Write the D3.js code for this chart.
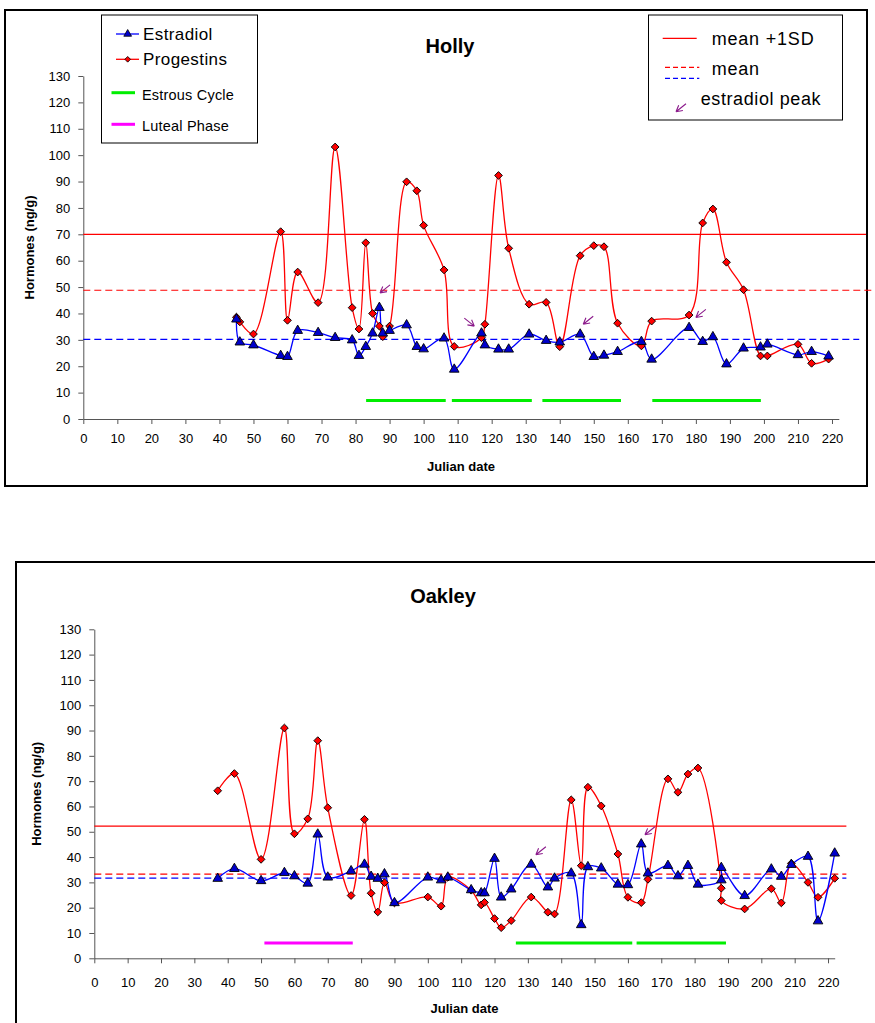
<!DOCTYPE html>
<html>
<head>
<meta charset="utf-8">
<script src="https://cdn.jsdelivr.net/npm/d3@7"></script>
<style>
  body { margin: 0; background: #fff; }
  svg text { font-family: "Liberation Sans", Arial, sans-serif; fill: #000; }
</style>
</head>
<body>
<div id="chart"></div>
<script>
// ---- Holly ----
const hollyDates = [45, 46, 50, 58, 60, 63, 69, 74, 79, 81, 83, 85, 87, 88, 90, 95, 98, 100, 106, 109,
  117, 118, 122, 125, 131, 136, 140, 146, 150, 153, 157, 164, 167, 178, 182, 185, 189, 194, 199, 201,
  210, 214, 219];
const hollyEstradiol = [37.8, 29.1, 28.0, 24.0, 23.6, 33.5, 32.7, 30.8, 29.9, 24.0, 27.4, 32.5, 42.2, 32.5, 33.5, 35.6, 27.4, 26.5, 30.6, 18.8,
  32.5, 28.0, 26.4, 26.4, 32.1, 29.7, 29.1, 32.1, 23.6, 24.1, 25.5, 29.3, 22.6, 34.6, 29.3, 31.1, 20.8, 26.8, 27.2, 28.3,
  24.3, 25.5, 23.8];
const hollyProgestins = [38.6, 36.8, 32.2, 71.0, 37.4, 55.7, 44.1, 103.1, 42.2, 34.1, 66.8, 40.0, 35.2, 31.2, 35.2, 89.9, 86.5, 73.4, 56.5, 27.5,
  30.8, 35.9, 92.3, 64.7, 43.5, 44.2, 27.4, 61.9, 65.7, 65.3, 36.3, 27.7, 37.1, 39.4, 74.3, 79.6, 59.4, 49.0, 23.9, 23.9,
  28.3, 21.1, 22.7];
// mean+1SD (progestins), mean progestins, mean estradiol
const hollyRefLines = [70.0, 48.8, 30.2];
const hollyEstrous = [[83.1, 106.5], [108.3, 131.8], [134.9, 158.0], [167.2, 199.1]];
const hollyLuteal = [];
// estradiol peak arrows: [date, value at arrow head, tail side]
const hollyPeaks = [[87.2, 47.8, "right"], [114.9, 35.2, "left"], [146.9, 35.9, "right"], [180.0, 38.5, "right"]];

// ---- Oakley ----
const oakleyDates = [37, 42, 50, 57, 60, 64, 67, 70, 77, 81, 83, 85, 87, 90, 100, 104, 106, 113, 116, 117,
  120, 122, 125, 131, 136, 138, 143, 146, 148, 152, 157, 160, 164, 166, 172, 175, 178, 181, 188, 188,
  195, 203, 206, 209, 214, 217, 222];
const oakleyEstradiol = [31.5, 35.4, 30.6, 33.8, 32.5, 29.6, 49.0, 32.0, 34.5, 37.1, 32.3, 31.5, 33.3, 21.9, 32.0, 30.9, 32.0, 27.0, 25.8, 25.8,
  39.4, 24.1, 27.3, 37.1, 28.1, 31.6, 33.6, 13.2, 36.1, 35.6, 29.2, 29.0, 45.1, 33.6, 36.6, 32.5, 36.6, 29.2, 30.9, 35.8,
  24.7, 35.2, 32.3, 37.0, 40.2, 14.7, 41.5];
const oakleyProgestins = [66.2, 73.0, 39.1, 91.0, 49.2, 55.1, 86.0, 59.5, 24.8, 54.9, 25.7, 18.3, 29.9, 21.9, 24.2, 20.6, 32.0, 26.9, 21.1, 22.1,
  15.7, 12.1, 14.9, 24.2, 18.2, 17.5, 62.6, 36.6, 67.6, 60.2, 41.2, 24.1, 22.0, 31.2, 70.9, 65.6, 72.8, 75.2, 27.7, 22.8,
  19.5, 27.5, 21.9, 37.5, 30.0, 24.1, 31.6];
const oakleyRefLines = [52.2, 33.3, 31.7];
const oakleyEstrous = [[126.4, 161.3], [162.6, 189.4]];
const oakleyLuteal = [[51.0, 77.5]];
const oakleyPeaks = [[132.4, 40.9, "right"], [165.1, 48.8, "right"]];

const xTicks = d3.range(0, 221, 10);
const yTicks = d3.range(0, 131, 10);

const W = 875, H = 1023;
const RED = "#ff0000", BLUE = "#0000ff", GREEN = "#00ee00", MAGENTA = "#ff00ff", PURPLE = "#8b1a8b";

const svg = d3.select("#chart").append("svg")
  .attr("width", W).attr("height", H);

// outer frames
svg.append("rect").attr("x", 5).attr("y", 10).attr("width", 862).attr("height", 476)
  .attr("fill", "none").attr("stroke", "#000").attr("stroke-width", 2);
svg.append("rect").attr("x", 16).attr("y", 562).attr("width", 880).attr("height", 480)
  .attr("fill", "none").attr("stroke", "#000").attr("stroke-width", 2);

function drawArrow(g, hx, hy, side) {
  // small open arrow, head at (hx,hy), tail towards upper left/right
  let tx = hx + (side === "right" ? 10 : -10), ty = hy - 8;
  let ang = Math.atan2(hy - ty, hx - tx);
  let wing = 7;
  let p = "M" + tx + "," + ty + "L" + hx + "," + hy;
  [-0.5, 0.5].forEach(a => {
    p += "M" + hx + "," + hy + "L" + (hx - wing * Math.cos(ang + a)) + "," + (hy - wing * Math.sin(ang + a));
  });
  g.append("path").attr("d", p).attr("fill", "none").attr("stroke", PURPLE).attr("stroke-width", 1.1);
}

function drawPanel(cfg) {
  let x = d3.scaleLinear().domain([0, 222]).range([cfg.left, cfg.right]);
  let y = d3.scaleLinear().domain([0, 130]).range([cfg.bottom, cfg.top]);
  let g = svg.append("g");

  // axes
  let xAxis = d3.axisBottom(x).tickValues(xTicks).tickSize(5).tickPadding(cfg.xPad).tickSizeOuter(0);
  let yAxis = d3.axisLeft(y).tickValues(yTicks).tickSize(5).tickPadding(8).tickSizeOuter(0);
  let gx = g.append("g").attr("transform", "translate(0," + cfg.bottom + ")").call(xAxis);
  let gy = g.append("g").attr("transform", "translate(" + cfg.left + ",0)").call(yAxis);
  [gx, gy].forEach(a => {
    a.selectAll("path, line").attr("stroke", "#555");
    a.selectAll("text").style("font-size", "13px").attr("fill", "#000");
  });

  // reference lines
  let refStyles = [
    {c: RED, dash: null, end: cfg.refEnd[0]},
    {c: RED, dash: "7,4", end: cfg.refEnd[1]},
    {c: BLUE, dash: "7,4", end: cfg.refEnd[2]}
  ];
  cfg.refLines.forEach((v, i) => {
    g.append("line")
      .attr("x1", x(0)).attr("x2", x(refStyles[i].end))
      .attr("y1", y(v)).attr("y2", y(v))
      .attr("stroke", refStyles[i].c).attr("stroke-width", 1.2)
      .attr("stroke-dasharray", refStyles[i].dash);
  });

  // phase bars
  cfg.estrous.forEach(s => {
    g.append("line").attr("x1", x(s[0])).attr("x2", x(s[1]))
      .attr("y1", y(cfg.phaseLevel)).attr("y2", y(cfg.phaseLevel))
      .attr("stroke", GREEN).attr("stroke-width", 3);
  });
  cfg.luteal.forEach(s => {
    g.append("line").attr("x1", x(s[0])).attr("x2", x(s[1]))
      .attr("y1", y(cfg.phaseLevel)).attr("y2", y(cfg.phaseLevel))
      .attr("stroke", MAGENTA).attr("stroke-width", 3);
  });

  let line = d3.line()
    .x(d => x(d[0])).y(d => y(d[1]))
    .curve(d3.curveCatmullRom.alpha(0.5));

  let est = cfg.dates.map((d, i) => [d, cfg.estradiol[i]]);
  let prog = cfg.dates.map((d, i) => [d, cfg.progestins[i]]);

  g.append("path").datum(prog).attr("d", line)
    .attr("fill", "none").attr("stroke", RED).attr("stroke-width", 1.3);
  g.append("path").datum(est).attr("d", line)
    .attr("fill", "none").attr("stroke", BLUE).attr("stroke-width", 1.3);

  let diamond = d3.symbol().type(d3.symbolSquare).size(30);
  let tri = d3.symbol().type(d3.symbolTriangle).size(40);

  g.selectAll(".prog").data(prog).enter().append("path")
    .attr("class", "prog")
    .attr("d", diamond)
    .attr("transform", d => "translate(" + x(d[0]) + "," + y(d[1]) + ") rotate(45)")
    .attr("fill", RED).attr("stroke", "#000").attr("stroke-width", 0.9);
  g.selectAll(".est").data(est).enter().append("path")
    .attr("class", "est")
    .attr("d", tri)
    .attr("transform", d => "translate(" + x(d[0]) + "," + y(d[1]) + ")")
    .attr("fill", "#0000cc").attr("stroke", "#000").attr("stroke-width", 0.9);

  cfg.peaks.forEach(p => drawArrow(g, x(p[0]), y(p[1]), p[2]));

  // titles
  g.append("text").attr("x", cfg.titleX).attr("y", cfg.titleY)
    .attr("text-anchor", "middle").style("font-size", "20px").style("font-weight", "bold")
    .text(cfg.title);
  g.append("text").attr("x", (cfg.left + cfg.right) / 2).attr("y", cfg.xLabelY)
    .attr("text-anchor", "middle").style("font-size", "13px").style("font-weight", "bold")
    .text("Julian date");
  g.append("text")
    .attr("transform", "translate(" + cfg.yLabelX + "," + ((cfg.top + cfg.bottom) / 2) + ") rotate(-90)")
    .attr("text-anchor", "middle").style("font-size", "13px").style("font-weight", "bold")
    .text("Hormones (ng/g)");
}

drawPanel({
  title: "Holly", titleX: 450, titleY: 53,
  left: 83.3, right: 838.8, top: 76, bottom: 419, xPad: 10,
  xLabelY: 471, yLabelX: 34,
  dates: hollyDates, estradiol: hollyEstradiol, progestins: hollyProgestins,
  refLines: hollyRefLines, refEnd: [230, 232, 228],
  estrous: hollyEstrous, luteal: hollyLuteal, phaseLevel: 7,
  peaks: hollyPeaks
});

drawPanel({
  title: "Oakley", titleX: 443, titleY: 603,
  left: 94.3, right: 834.7, top: 629.3, bottom: 958.3, xPad: 14,
  xLabelY: 1013, yLabelX: 41,
  dates: oakleyDates, estradiol: oakleyEstradiol, progestins: oakleyProgestins,
  refLines: oakleyRefLines, refEnd: [225.5, 225.5, 225.5],
  estrous: oakleyEstrous, luteal: oakleyLuteal, phaseLevel: 6,
  peaks: oakleyPeaks
});

// ---- legends (Holly panel) ----
let lg = svg.append("g");
lg.append("rect").attr("x", 101.5).attr("y", 15).attr("width", 156).attr("height", 128)
  .attr("fill", "#fff").attr("stroke", "#000").attr("stroke-width", 1);
lg.append("line").attr("x1", 116).attr("x2", 139).attr("y1", 34).attr("y2", 34)
  .attr("stroke", BLUE).attr("stroke-width", 1.3);
lg.append("path").attr("d", d3.symbol().type(d3.symbolTriangle).size(26))
  .attr("transform", "translate(127.7,34)").attr("fill", "#0000cc").attr("stroke", "#000").attr("stroke-width", 0.8);
lg.append("line").attr("x1", 116).attr("x2", 139).attr("y1", 59.3).attr("y2", 59.3)
  .attr("stroke", RED).attr("stroke-width", 1.3);
lg.append("path").attr("d", d3.symbol().type(d3.symbolSquare).size(16))
  .attr("transform", "translate(127.7,59.3) rotate(45)").attr("fill", RED).attr("stroke", "#000").attr("stroke-width", 0.8);
lg.append("text").attr("x", 143).attr("y", 40).style("font-size", "17px").style("letter-spacing", "0.4px").text("Estradiol");
lg.append("text").attr("x", 143).attr("y", 65).style("font-size", "17px").style("letter-spacing", "0.4px").text("Progestins");
lg.append("line").attr("x1", 111.5).attr("x2", 135).attr("y1", 92.7).attr("y2", 92.7)
  .attr("stroke", GREEN).attr("stroke-width", 3);
lg.append("line").attr("x1", 111.5).attr("x2", 135).attr("y1", 124.3).attr("y2", 124.3)
  .attr("stroke", MAGENTA).attr("stroke-width", 3);
lg.append("text").attr("x", 142).attr("y", 100).style("font-size", "14.5px").style("letter-spacing", "0.2px").text("Estrous Cycle");
lg.append("text").attr("x", 142).attr("y", 131).style("font-size", "14.5px").style("letter-spacing", "0.2px").text("Luteal Phase");

let rg = svg.append("g");
rg.append("rect").attr("x", 648.5).attr("y", 15).attr("width", 194).attr("height", 105)
  .attr("fill", "#fff").attr("stroke", "#000").attr("stroke-width", 1);
rg.append("line").attr("x1", 662.7).attr("x2", 696.7).attr("y1", 38.3).attr("y2", 38.3)
  .attr("stroke", RED).attr("stroke-width", 1.2);
rg.append("line").attr("x1", 665).attr("x2", 699.3).attr("y1", 67.3).attr("y2", 67.3)
  .attr("stroke", RED).attr("stroke-width", 1.2).attr("stroke-dasharray", "5,3");
rg.append("line").attr("x1", 665).attr("x2", 699.3).attr("y1", 78.3).attr("y2", 78.3)
  .attr("stroke", BLUE).attr("stroke-width", 1.2).attr("stroke-dasharray", "5,3");
rg.append("text").attr("x", 711.7).attr("y", 45).style("font-size", "18px").style("letter-spacing", "0.8px").text("mean +1SD");
rg.append("text").attr("x", 711.7).attr("y", 75).style("font-size", "18px").style("letter-spacing", "0.8px").text("mean");
rg.append("text").attr("x", 700.7).attr("y", 105).style("font-size", "18px").style("letter-spacing", "0.6px").text("estradiol peak");
drawArrow(rg, 676, 111.7, "right");
</script>
</body>
</html>
